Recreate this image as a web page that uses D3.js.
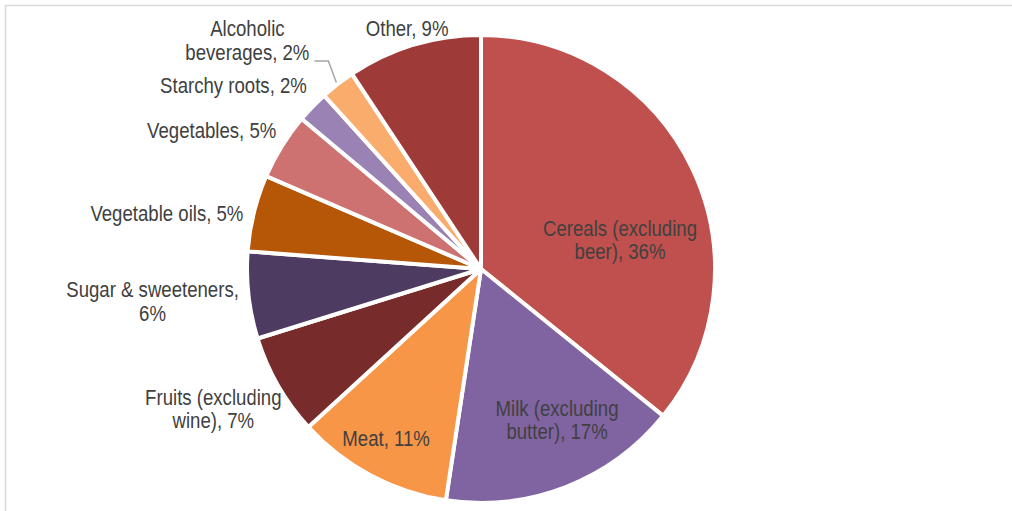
<!DOCTYPE html>
<html>
<head>
<meta charset="utf-8">
<script src="https://cdn.jsdelivr.net/npm/d3@7"></script>
<style>
  html, body { margin: 0; padding: 0; background: #fff; overflow: hidden; }
  text { font-family: "Liberation Sans Narrow", "Arial Narrow", "Liberation Sans", Arial, sans-serif; fill: #404040; }
</style>
</head>
<body>
<script>
// data
var categories = ["Cereals (excluding beer)", "Milk (excluding butter)", "Meat", "Fruits (excluding wine)",
                  "Sugar & sweeteners", "Vegetable oils", "Vegetables", "Starchy roots", "Alcoholic beverages", "Other"];
var values = [35.8, 16.6, 10.8, 7.0, 6.0, 5.3, 4.6, 2.2, 2.4, 9.3];
var pctLabels = ["36%", "17%", "11%", "7%", "6%", "5%", "5%", "2%", "2%", "9%"];
// how each label wraps
var labelLines = [
    ["Cereals (excluding", "beer), 36%"],
    ["Milk (excluding", "butter), 17%"],
    ["Meat, 11%"],
    ["Fruits (excluding", "wine), 7%"],
    ["Sugar & sweeteners,", "6%"],
    ["Vegetable oils, 5%"],
    ["Vegetables, 5%"],
    ["Starchy roots, 2%"],
    ["Alcoholic", "beverages, 2%"],
    ["Other, 9%"]
];
var colors = ["#C0504D", "#8064A2", "#F79646", "#772B2A", "#4E3B61",
              "#B65708", "#CD7270", "#9B82B4", "#F9AC6B", "#9E3A38"];

// label placement: radius from centre and angle shift (deg) from slice middle
var labelR  = [142, 169, 194, 302, 330, 319, 303, 308, 327, 252];
var labelDa = [13.8, -5.5, 1.2, 2.3, 0.9, -3.8, -4.4, -7.4, -7.8, -0.3];

var width = 1012, height = 511;
var cx = 481, cy = 269, radius = 234;
var fontSize = 22, lineH = 23.5;
var narrow = 0.846;   // no narrow font installed, squeeze the regular one

var svg = d3.select("body").append("svg")
    .attr("width", width)
    .attr("height", height);

// chart frame (cut off at right and bottom)
svg.append("rect")
    .attr("x", 5.5).attr("y", 5.5)
    .attr("width", 1200).attr("height", 700)
    .attr("fill", "none")
    .attr("stroke", "#D9D9D9")
    .attr("stroke-width", 1.5);

var pie = d3.pie().sort(null).value(function(d) { return d; });
var arcs = pie(values);

var arc = d3.arc().innerRadius(0).outerRadius(radius);

var g = svg.append("g")
    .attr("transform", "translate(" + cx + "," + cy + ")");

g.selectAll("path.slice")
    .data(arcs)
    .enter().append("path")
    .attr("class", "slice")
    .attr("d", arc)
    .attr("fill", function(d, i) { return colors[i]; })
    .attr("stroke", "#fff")
    .attr("stroke-width", 4)
    .attr("stroke-linejoin", "round");

function polar(angle, r) {
    return [r * Math.sin(angle), -r * Math.cos(angle)];
}

var labelPts = [];
var labels = g.selectAll("text.lbl")
    .data(arcs)
    .enter().append("text")
    .attr("class", "lbl")
    .attr("text-anchor", "middle")
    .style("font-size", fontSize + "px")
    .each(function(d, i) {
        var mid = (d.startAngle + d.endAngle) / 2 + labelDa[i] * Math.PI / 180;
        var p = polar(mid, labelR[i]);
        labelPts[i] = p;
        var lines = labelLines[i];
        var t = d3.select(this)
            .attr("transform", "translate(" + p[0] + "," + p[1] + ") scale(" + narrow + ",1)");
        lines.forEach(function(line, k) {
            t.append("tspan")
                .attr("x", 0)
                .attr("y", (k - (lines.length - 1) / 2) * lineH)
                .attr("dy", "0.35em")
                .text(line);
        });
    });

// leader line for the alcoholic beverages label
var ai = 8;
var ad = arcs[ai];
var aMid = (ad.startAngle + ad.endAngle) / 2;
var endPt = polar(aMid, radius + 2);
var lblNode = labels.filter(function(d, i) { return i === ai; }).node();
var bb = lblNode.getBBox();
var rightX = labelPts[ai][0] + (bb.x + bb.width) * narrow;
var lineY = labelPts[ai][1] + lineH / 2 + 9;
var elbow = [endPt[0] - 8, lineY];
g.append("path")
    .attr("d", d3.line()([[rightX + 5, lineY], elbow, endPt]))
    .attr("fill", "none")
    .attr("stroke", "#A6A6A6")
    .attr("stroke-width", 1.5);
</script>
</body>
</html>
